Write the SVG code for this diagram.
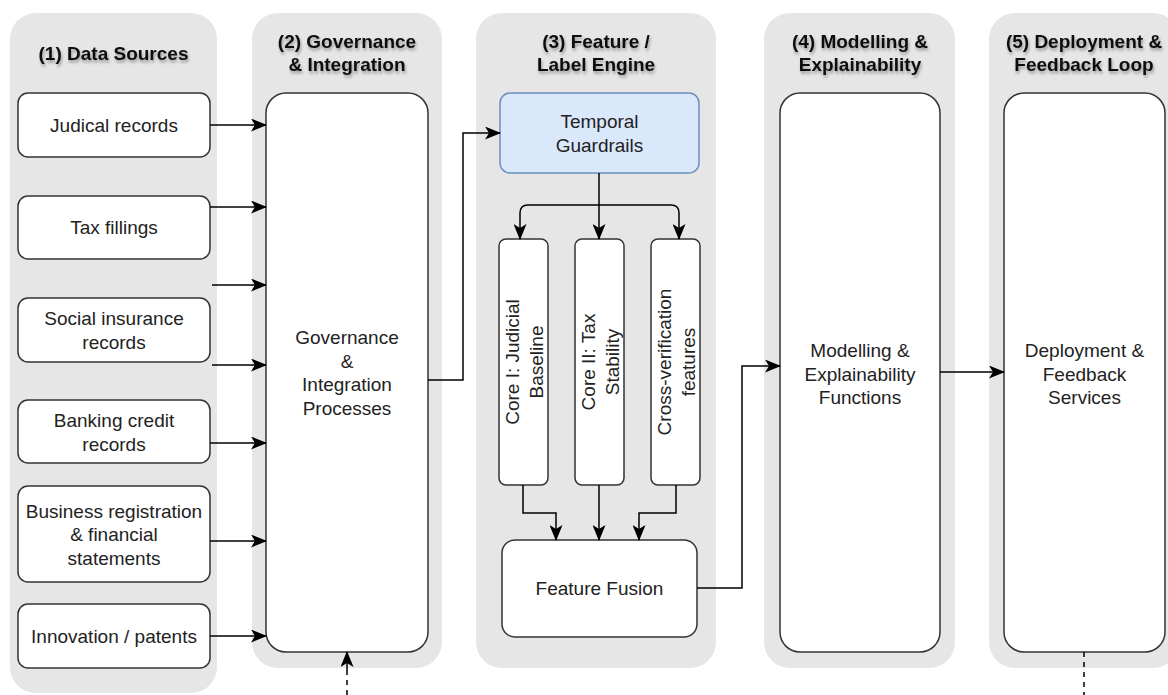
<svg xmlns="http://www.w3.org/2000/svg" width="1168" height="695" viewBox="0 0 1168 695">
<defs>
<style>
.lane{fill:#e6e6e6;stroke:none}
.box{fill:#fff;stroke:#333;stroke-width:1.5}
.blue{fill:#dae8fc;stroke:#6c8ebf;stroke-width:1.5}
.t{font-family:"Liberation Sans",Arial,sans-serif;font-size:19px;fill:#222;text-anchor:middle}
.h{font-family:"Liberation Sans",Arial,sans-serif;font-size:19px;font-weight:bold;fill:#111;text-anchor:middle;filter:url(#sh)}
.c{fill:none;stroke:#000;stroke-width:1.5;marker-end:url(#arr)}
.d{fill:none;stroke:#000;stroke-width:1.5;stroke-dasharray:5 5}
</style>
<filter id="sh" x="-10%" y="-30%" width="120%" height="180%">
<feDropShadow dx="1" dy="2.5" stdDeviation="1.5" flood-color="#000" flood-opacity="0.35"/>
</filter>
<marker id="arr" viewBox="0 0 16 13" refX="15" refY="6.5" markerWidth="16" markerHeight="13" orient="auto" markerUnits="userSpaceOnUse">
<path d="M0,0 L16,6.5 L0,13 L4,6.5 z" fill="#000"/>
</marker>
</defs>

<g id="lanes">
<rect class="lane" x="10" y="13" width="207" height="680" rx="26"/>
<rect class="lane" x="252" y="13" width="190" height="655" rx="26"/>
<rect class="lane" x="476" y="13" width="240" height="655" rx="26"/>
<rect class="lane" x="764" y="13" width="191" height="655" rx="26"/>
<rect class="lane" x="989" y="13" width="190" height="655" rx="26"/>
</g>

<g id="headers">
<text class="h" x="113.5" y="60">(1) Data Sources</text>
<text class="h" x="347" y="48">(2) Governance<tspan x="347" y="71">&amp; Integration</tspan></text>
<text class="h" x="596" y="48">(3) Feature /<tspan x="596" y="71">Label Engine</tspan></text>
<text class="h" x="860" y="48">(4) Modelling &amp;<tspan x="860" y="71">Explainability</tspan></text>
<text class="h" x="1084" y="48">(5) Deployment &amp;<tspan x="1084" y="71">Feedback Loop</tspan></text>
</g>

<g id="n-judicial"><rect class="box" x="18" y="93" width="192" height="64" rx="10"/><text class="t" x="114" y="132">Judical records</text></g>
<g id="n-tax"><rect class="box" x="18" y="196" width="192" height="63" rx="10"/><text class="t" x="114" y="234">Tax fillings</text></g>
<g id="n-social"><rect class="box" x="18" y="298" width="192" height="64" rx="10"/><text class="t" x="114" y="325">Social insurance<tspan x="114" y="348.5">records</tspan></text></g>
<g id="n-banking"><rect class="box" x="18" y="400" width="192" height="63" rx="10"/><text class="t" x="114" y="427">Banking credit<tspan x="114" y="450.5">records</tspan></text></g>
<g id="n-business"><rect class="box" x="18" y="486" width="192" height="96" rx="10"/><text class="t" x="114" y="517.5">Business registration<tspan x="114" y="541">&amp; financial</tspan><tspan x="114" y="564.5">statements</tspan></text></g>
<g id="n-innovation"><rect class="box" x="18" y="604" width="192" height="64" rx="10"/><text class="t" x="114" y="643">Innovation / patents</text></g>

<g id="n-governance"><rect class="box" x="266" y="93" width="162" height="559" rx="20"/><text class="t" x="347" y="344">Governance<tspan x="347" y="367.5">&amp;</tspan><tspan x="347" y="391">Integration</tspan><tspan x="347" y="414.5">Processes</tspan></text></g>

<g id="n-temporal"><rect class="blue" x="500" y="93" width="199" height="80" rx="10"/><text class="t" x="599.5" y="128">Temporal<tspan x="599.5" y="151.5">Guardrails</tspan></text></g>

<g id="n-core1"><rect class="box" x="499" y="239" width="49" height="246" rx="7"/><text class="t" transform="translate(523.5,362) rotate(-90)"><tspan x="0" y="-4.5">Core I: Judicial</tspan><tspan x="0" y="19">Baseline</tspan></text></g>
<g id="n-core2"><rect class="box" x="575" y="239" width="49" height="246" rx="7"/><text class="t" transform="translate(599.5,362) rotate(-90)"><tspan x="0" y="-4.5">Core II: Tax</tspan><tspan x="0" y="19">Stability</tspan></text></g>
<g id="n-cross"><rect class="box" x="651" y="239" width="49" height="246" rx="7"/><text class="t" transform="translate(675.5,362) rotate(-90)"><tspan x="0" y="-4.5">Cross-verification</tspan><tspan x="0" y="19">features</tspan></text></g>

<g id="n-fusion"><rect class="box" x="502" y="540" width="195" height="97" rx="13"/><text class="t" x="599.5" y="595">Feature Fusion</text></g>

<g id="n-modelling"><rect class="box" x="780" y="93" width="160" height="559" rx="20"/><text class="t" x="860" y="357">Modelling &amp;<tspan x="860" y="380.5">Explainability</tspan><tspan x="860" y="404">Functions</tspan></text></g>

<g id="n-deployment"><rect class="box" x="1004" y="93" width="161" height="559" rx="20"/><text class="t" x="1084.5" y="357">Deployment &amp;<tspan x="1084.5" y="380.5">Feedback</tspan><tspan x="1084.5" y="404">Services</tspan></text></g>

<g id="connectors">
<path class="c" d="M210,125 H266"/>
<path class="c" d="M210,207 H266"/>
<path class="c" d="M212,285 H266"/>
<path class="c" d="M212,365 H266"/>
<path class="c" d="M210,443 H266"/>
<path class="c" d="M210,541 H266"/>
<path class="c" d="M210,636 H266"/>
<path class="d" d="M347,695 V666"/>
<path class="c" d="M347,670 V652"/>
<path class="c" d="M428,380 H463 V133 H500"/>
<path class="c" d="M599,173 V239"/>
<path class="c" d="M599,205 H528 Q520,205 520,213 V239"/>
<path class="c" d="M599,205 H671 Q679,205 679,213 V239"/>
<path class="c" d="M523,485 V513 H556 V540"/>
<path class="c" d="M599,485 V540"/>
<path class="c" d="M676,485 V513 H639 V540"/>
<path class="c" d="M697,588 H742 V366 H780"/>
<path class="c" d="M940,372 H1004"/>
<path class="d" d="M1084,652 V695"/>
</g>
</svg>
